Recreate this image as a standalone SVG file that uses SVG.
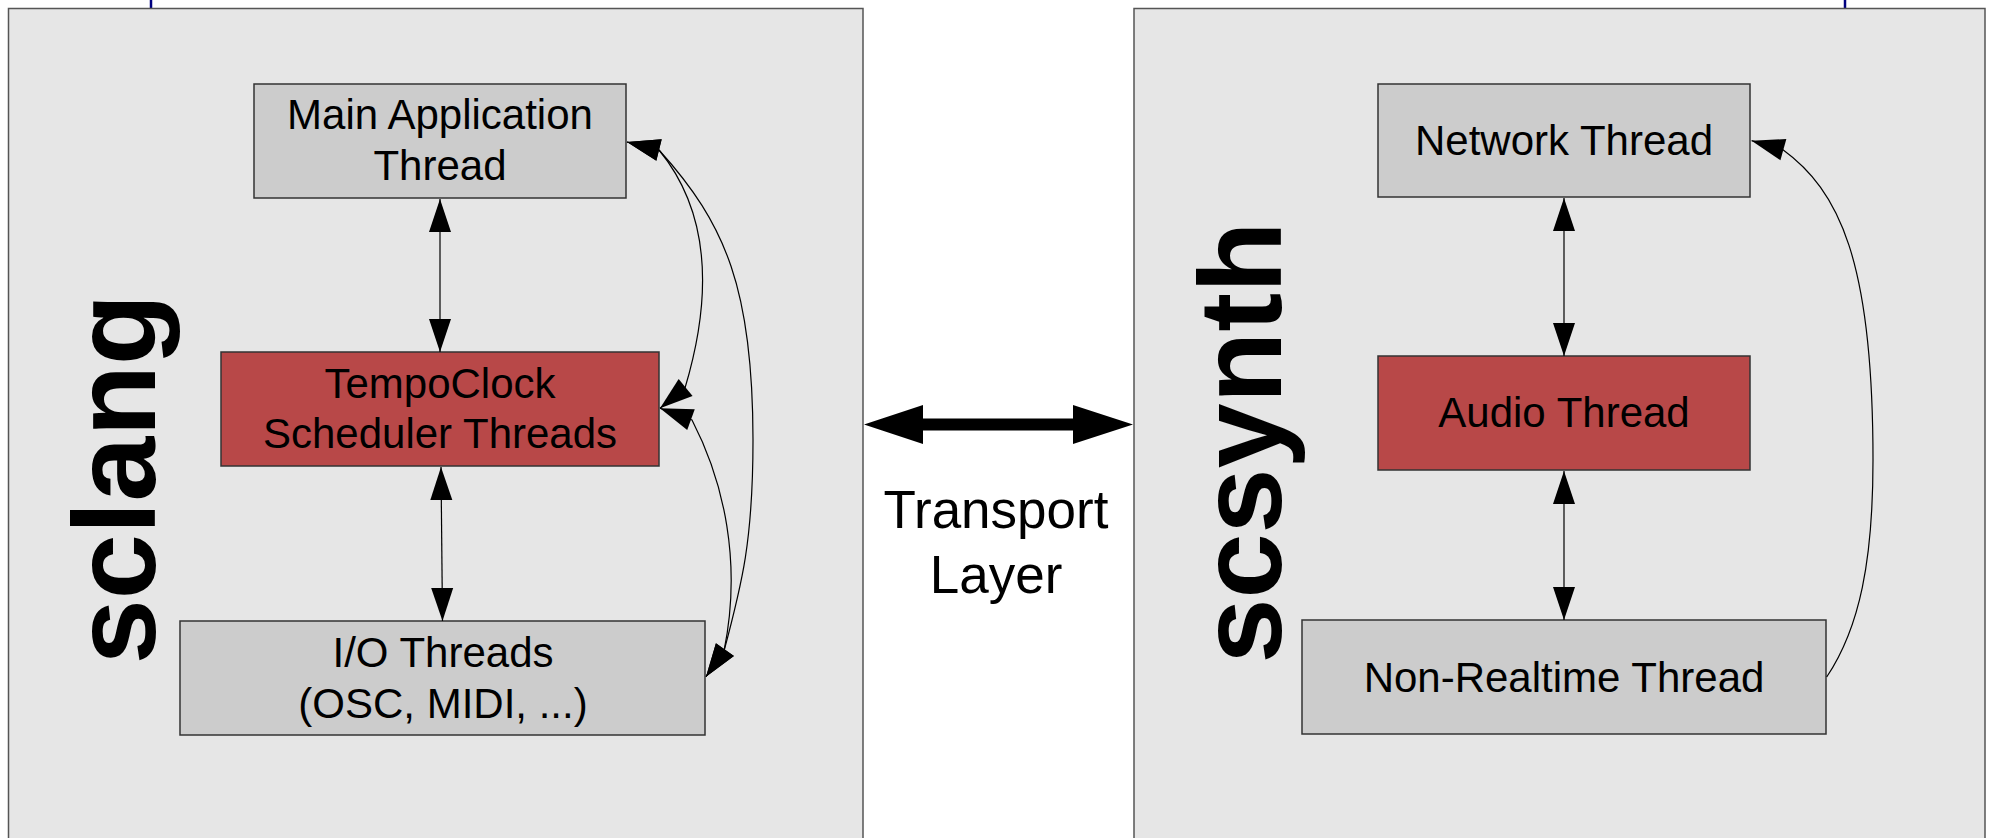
<svg xmlns="http://www.w3.org/2000/svg" width="1993" height="838" viewBox="0 0 1993 838">
  <style>
    .panel { fill: #e6e6e6; stroke: #555555; stroke-width: 1.5; }
    .tick { stroke: #000080; stroke-width: 2.5; }
    .box { stroke: #333333; stroke-width: 1.5; }
    .grey { fill: #cccccc; }
    .red { fill: #b84848; }
    .lbl { font-family: "Liberation Sans", Arial, sans-serif; font-size: 42px; fill: #000; text-anchor: middle; }
    .title { font-family: "Liberation Sans", Arial, sans-serif; font-weight: bold; font-size: 117px; fill: #000; text-anchor: middle; }
    .transport { font-family: "Liberation Sans", Arial, sans-serif; font-size: 53px; fill: #000; text-anchor: middle; }
    .link { fill: none; stroke: #000; stroke-width: 1.2; }
  </style>
  <defs>
    <marker id="head" viewBox="0 -12 34 24" refX="33" refY="0" markerWidth="34" markerHeight="24" markerUnits="userSpaceOnUse" orient="auto-start-reverse" overflow="visible">
      <path d="M0,-11 L33,0 L0,11 z" fill="#000"/>
    </marker>
  </defs>

  <rect width="1993" height="838" fill="#ffffff"/>

  <!-- sclang process -->
  <g id="sclang">
    <line class="tick" x1="151" y1="0" x2="151" y2="8"/>
    <rect class="panel" x="8.5" y="8.5" width="854.5" height="840"/>
    <text class="title" transform="translate(155,479) rotate(-90)">sclang</text>
  </g>

  <!-- scsynth process -->
  <g id="scsynth">
    <line class="tick" x1="1845" y1="0" x2="1845" y2="8"/>
    <rect class="panel" x="1134" y="8.5" width="851" height="840"/>
    <text class="title" transform="translate(1281,442.5) rotate(-90)">scsynth</text>
  </g>

  <g id="main-thread">
    <rect class="box grey" x="254" y="84" width="372" height="114"/>
    <text class="lbl" x="440" y="129">Main Application</text>
    <text class="lbl" x="440" y="180">Thread</text>
  </g>

  <g id="tempoclock">
    <rect class="box red" x="221" y="352" width="438" height="114"/>
    <text class="lbl" x="440" y="398">TempoClock</text>
    <text class="lbl" x="440" y="448">Scheduler Threads</text>
  </g>

  <g id="io-threads">
    <rect class="box grey" x="180" y="621" width="525" height="114"/>
    <text class="lbl" x="443" y="667">I/O Threads</text>
    <text class="lbl" x="443" y="718">(OSC, MIDI, ...)</text>
  </g>

  <g id="network-thread">
    <rect class="box grey" x="1378" y="84" width="372" height="113"/>
    <text class="lbl" x="1564" y="155">Network Thread</text>
  </g>

  <g id="audio-thread">
    <rect class="box red" x="1378" y="356" width="372" height="114"/>
    <text class="lbl" x="1564" y="427">Audio Thread</text>
  </g>

  <g id="nrt-thread">
    <rect class="box grey" x="1302" y="620" width="524" height="114"/>
    <text class="lbl" x="1564" y="692">Non-Realtime Thread</text>
  </g>

  <g id="transport">
    <polygon points="864,424.5 923,405 923,418.5 1073,418.5 1073,405 1133,424.5 1073,444 1073,430.5 923,430.5 923,444" fill="#000"/>
    <text class="transport" x="996" y="528">Transport</text>
    <text class="transport" x="996" y="593">Layer</text>
  </g>

  <g id="connectors">
    <!-- straight links -->
    <path class="link" d="M440,199 L440,352" marker-start="url(#head)" marker-end="url(#head)"/>
    <path class="link" d="M441,467 L442.5,621" marker-start="url(#head)" marker-end="url(#head)"/>
    <path class="link" d="M1564,198 L1564,356" marker-start="url(#head)" marker-end="url(#head)"/>
    <path class="link" d="M1564,471 L1564,620" marker-start="url(#head)" marker-end="url(#head)"/>
    <!-- main <-> tempoclock -->
    <path class="link" d="M627,142 L659,150 C714,217 710,304.5 685,388 L660,408.3" marker-start="url(#head)" marker-end="url(#head)"/>
    <!-- main <-> io -->
    <path class="link" d="M627,142 L659,150 C726,224 753,290 753,440 C753,540 742.2,583.1 724,651 L706,676.7" marker-start="url(#head)" marker-end="url(#head)"/>
    <!-- tempoclock <-> io -->
    <path class="link" d="M660,408.3 L692,420 C724.2,482.3 742,562.8 724,651 L706,676.7" marker-start="url(#head)" marker-end="url(#head)"/>
    <!-- nrt -> network -->
    <path class="link" d="M1751.6,140.7 L1782.3,149.3 C1839,190.6 1873,260 1873,460 C1873,560 1860,627.2 1826.7,677" marker-start="url(#head)"/>
  </g>
</svg>
